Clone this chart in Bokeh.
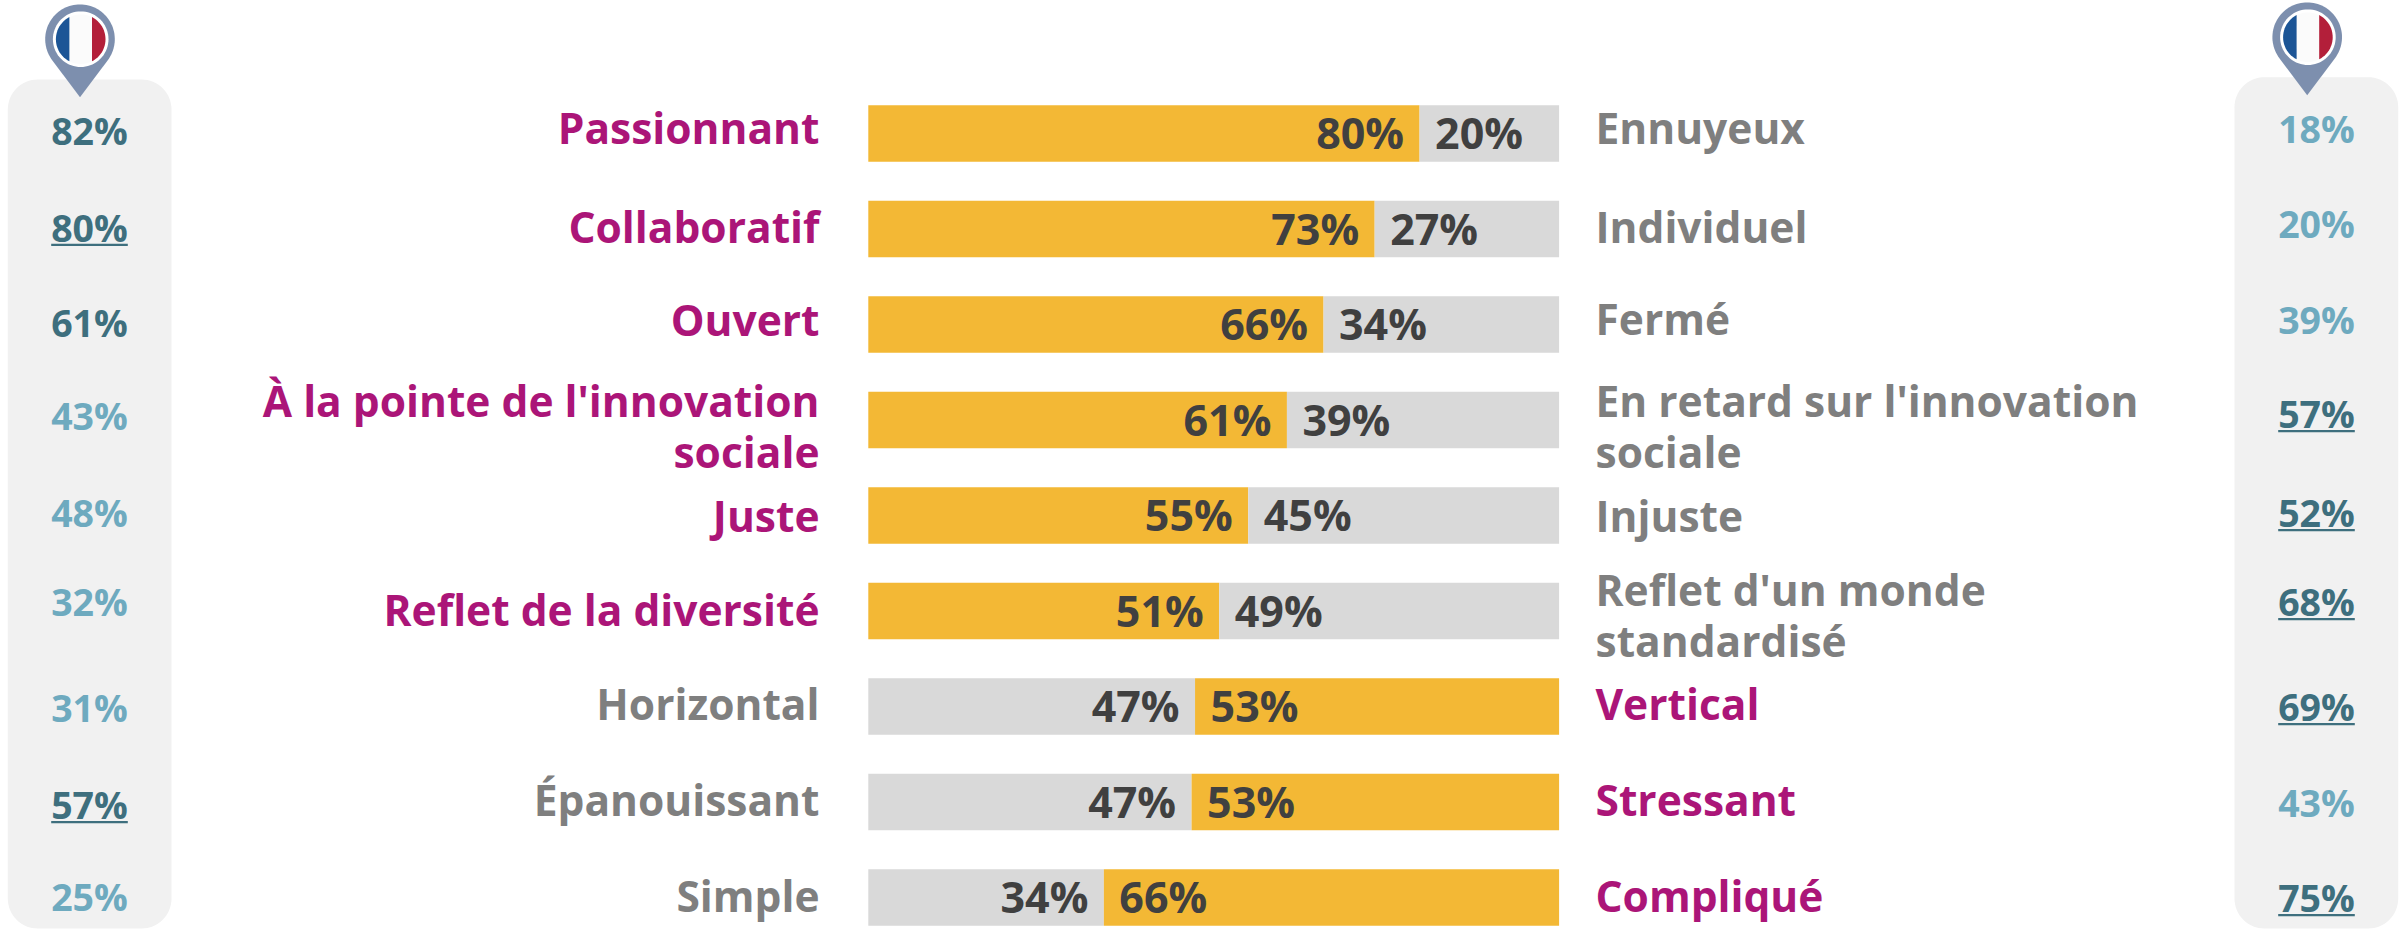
import math
from bokeh.plotting import figure
from bokeh.models import Range1d
from bokeh.core.properties import value
from bokeh.embed import file_html
from bokeh.resources import INLINE

# ---------- data ----------
left_labels = ["Passionnant", "Collaboratif", "Ouvert", "À la pointe de l'innovation\nsociale", "Juste",
               "Reflet de la diversité", "Horizontal", "Épanouissant", "Simple"]
right_labels = ["Ennuyeux", "Individuel", "Fermé", "En retard sur l'innovation\nsociale", "Injuste",
                "Reflet d'un monde\nstandardisé", "Vertical", "Stressant", "Compliqué"]
left_share = [79.8, 73.3, 65.9, 60.6, 55.0, 50.8, 47.3, 46.8, 34.1]
left_pct = [80, 73, 66, 61, 55, 51, 47, 47, 34]
right_pct = [20, 27, 34, 39, 45, 49, 53, 53, 66]
left_fr = [82, 80, 61, 43, 48, 32, 31, 57, 25]
right_fr = [18, 20, 39, 57, 52, 68, 69, 43, 75]
left_fr_under = [False, True, False, False, False, False, False, True, False]
right_fr_under = [False, False, False, True, True, True, True, False, True]
left_fr_dark = [True, True, True, False, False, False, False, True, False]
right_fr_dark = [False, False, False, True, True, True, True, False, True]
left_is_main = [True, True, True, True, True, True, False, False, False]

# ---------- layout (page pixels) ----------
W, H = 2405, 929
BAR_L, BAR_R = 867.8, 1558.6
ROW0, PITCH, BAR_H = 133.0, 95.5, 56.5
ORANGE, GREY, MAGENTA, TXT_GREY, TXT_DARK = "#f3b835", "#d9d9d9", "#ab1578", "#7f7f7f", "#404040"
TEAL_D, TEAL_L, PANEL = "#3e6f7e", "#6eaabf", "#f1f1f1"
PIN, FBLUE, FRED, FWHITE = "#7d8fae", "#1c5596", "#b31f3a", "#fbfbfb"
FONT = value("Open Sans")
BASELINE_SHIFT = 0.4  # em; Bokeh's alphabetic text sits this far below the anchor

left_base = [144.3, 243, 335.7, 417, 531.7, 626, 720, 815.7, 912]
right_base = [144, 242.7, 335, 417, 531.7, 606, 720, 815.7, 912]
line2 = 51
left_fr_base = [145, 241.7, 337, 430, 527, 616, 722, 819, 911]
right_fr_base = [143, 238, 334, 428, 527, 616, 721, 817, 912]

unit_x = (BAR_R - BAR_L) / 100.0
X = lambda px: (px - BAR_L) / unit_x
Y = lambda py: (py - ROW0) / PITCH
rows = list(range(len(left_labels)))

p = figure(width=W, height=H, output_backend="svg", toolbar_location=None,
           x_range=Range1d(X(0), X(W)), y_range=Range1d(Y(H), Y(0)),
           x_axis_type=None, y_axis_type=None, min_border=0, outline_line_color=None,
           background_fill_color="white", border_fill_color="white")
p.grid.visible = False


def round_panel(x0, x1, y0, y1, r):
    xs, ys = [], []
    for cx, cy, a0 in [(x0 + r, y0 + r, 180), (x1 - r, y0 + r, 270), (x1 - r, y1 - r, 0), (x0 + r, y1 - r, 90)]:
        for k in range(17):
            a = math.radians(a0 + k * 90 / 16)
            xs.append(X(cx + r * math.cos(a)))
            ys.append(Y(cy + r * math.sin(a)))
    p.patch(xs, ys, fill_color=PANEL, line_color=None)


def pin(cx, cy, tip_y):
    R = 34.8
    xs, ys = [], []
    for k in range(73):
        a = math.radians(180 - 37 + k * (180 + 74) / 72)
        xs.append(X(cx + R * math.cos(a)))
        ys.append(Y(cy + R * math.sin(a)))
    xs.append(X(cx))
    ys.append(Y(tip_y))
    p.patch(xs, ys, fill_color=PIN, line_color=None)
    fx = cx + 0.7
    circ = lambda r, a: (X(fx + r * math.cos(a)), Y(cy + r * math.sin(a)))
    pts = [circ(27.8, 2 * math.pi * k / 72) for k in range(72)]
    p.patch([q[0] for q in pts], [q[1] for q in pts], fill_color="white", line_color=None)
    r = 24.8
    pts = [circ(r, 2 * math.pi * k / 72) for k in range(72)]
    p.patch([q[0] for q in pts], [q[1] for q in pts], fill_color=FWHITE, line_color=None)
    d = 11.3
    a = math.acos(d / r)
    pts = [circ(r, math.pi - a + 2 * a * k / 24) for k in range(25)]
    p.patch([q[0] for q in pts], [q[1] for q in pts], fill_color=FBLUE, line_color=None)
    pts = [circ(r, -a + 2 * a * k / 24) for k in range(25)]
    p.patch([q[0] for q in pts], [q[1] for q in pts], fill_color=FRED, line_color=None)


round_panel(7.3, 171, 79, 928, 30)
round_panel(2234, 2397.7, 76.7, 928, 30)
pin(79.5, 38.7, 96.7)
pin(2306.7, 36.7, 94.8)

# bars
bh = BAR_H / PITCH
left_col = [ORANGE if m else GREY for m in left_is_main]
right_col = [GREY if m else ORANGE for m in left_is_main]
p.hbar(y=rows, left=0, right=left_share, height=bh, fill_color=left_col, line_color=None)
p.hbar(y=rows, left=left_share, right=100, height=bh, fill_color=right_col, line_color=None)


def txt(x, y, s, color, size, align):
    dy = BASELINE_SHIFT * size / PITCH
    p.text(x=x, y=[v - dy for v in y], text=s, text_color=color, text_font=FONT, text_font_style="bold",
           text_font_size=f"{size}px", text_align=align, text_baseline="alphabetic")


# bar value labels
base_y = [r + 16.5 / PITCH for r in rows]
gap = 15.5 / unit_x
txt([v - gap for v in left_share], base_y, [f"{v}%" for v in left_pct], TXT_DARK, 43, "right")
txt([v + gap for v in left_share], base_y, [f"{v}%" for v in right_pct], TXT_DARK, 43, "left")

# side labels (wrapped labels are one text per line)
for side, labels, bases, x_px, align in [("l", left_labels, left_base, 819, "right"),
                                         ("r", right_labels, right_base, 1595, "left")]:
    for i, lab in enumerate(labels):
        main = left_is_main[i] if side == "l" else not left_is_main[i]
        col = MAGENTA if main else TXT_GREY
        for j, part in enumerate(lab.split("\n")):
            txt([X(x_px)], [Y(bases[i] + j * line2)], [part], col, 42.5, align)

# France columns
for vals, dark, under, bases, cx in [(left_fr, left_fr_dark, left_fr_under, left_fr_base, 89),
                                     (right_fr, right_fr_dark, right_fr_under, right_fr_base, 2316)]:
    for i, v in enumerate(vals):
        col = TEAL_D if dark[i] else TEAL_L
        txt([X(cx)], [Y(bases[i])], [f"{v}%"], col, 37.5, "center")
        if under[i]:
            p.quad(left=[X(cx - 38.3)], right=[X(cx + 38.3)], top=[Y(bases[i] + 1.6)], bottom=[Y(bases[i] + 3.8)],
                   fill_color=col, line_color=None)

html = file_html(p, INLINE)
html = html.replace("<head>", "<head><style>html,body{margin:0;padding:0;overflow:hidden}</style>", 1)
open("out.html", "w").write(html)
